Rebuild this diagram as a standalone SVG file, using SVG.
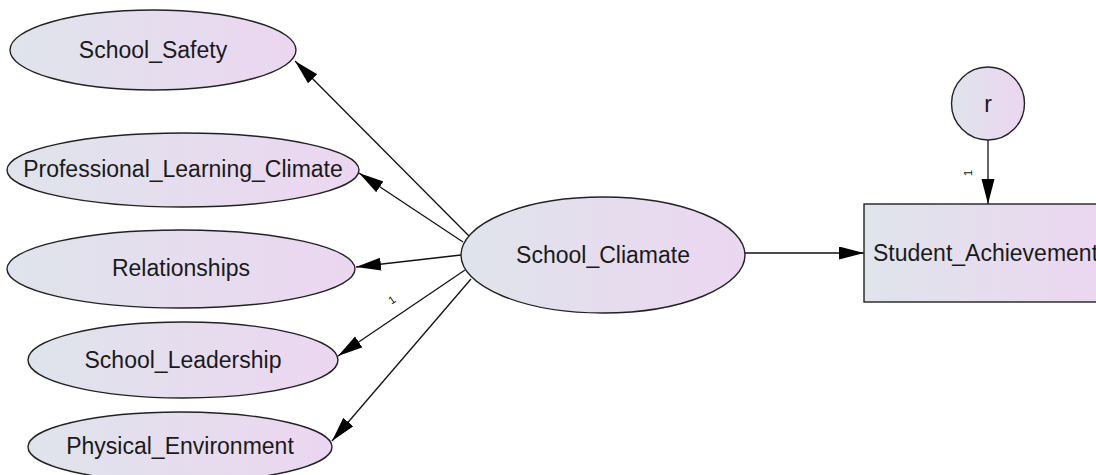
<svg xmlns="http://www.w3.org/2000/svg" width="1096" height="475" viewBox="0 0 1096 475">
<defs>
<linearGradient id="fill" x1="0" y1="0" x2="1" y2="0">
<stop offset="0" stop-color="#dfe4eb"/>
<stop offset="1" stop-color="#ecd6f1"/>
</linearGradient>
<marker id="arr" markerUnits="userSpaceOnUse" markerWidth="26" markerHeight="14" refX="25" refY="6.5" orient="auto">
<path d="M0,0 L25,6.5 L0,13 z" fill="#000"/>
</marker>
</defs>
<style>
.shape{fill:url(#fill);stroke:#222;stroke-width:1.4}
.lbl{font-family:"Liberation Sans",Arial,sans-serif;font-size:23px;fill:#1a1a1a;text-anchor:middle}
.edge{stroke:#111;stroke-width:1.3;fill:none;marker-end:url(#arr)}
.one{font-family:"Liberation Sans",Arial,sans-serif;font-size:11px;fill:#111;text-anchor:middle}
</style>
<rect width="1096" height="475" fill="#fff"/>
<g id="connectors">
<line class="edge" x1="470" y1="237" x2="295" y2="61"/>
<line class="edge" x1="463" y1="242" x2="359" y2="173"/>
<line class="edge" x1="461" y1="255" x2="356" y2="267"/>
<line class="edge" x1="465" y1="270" x2="338" y2="356"/>
<line class="edge" x1="471" y1="279" x2="332" y2="441"/>
<line class="edge" x1="745" y1="253" x2="864" y2="253"/>
<line class="edge" x1="988" y1="140" x2="988" y2="204"/>
<text class="one" transform="translate(394,303) rotate(-34)">1</text>
<text class="one" transform="translate(972,173) rotate(-90)">1</text>
</g>
<g id="School_Safety">
<ellipse class="shape" cx="153" cy="50" rx="143" ry="40"/>
<text class="lbl" x="153" y="58">School_Safety</text>
</g>
<g id="Professional_Learning_Climate">
<ellipse class="shape" cx="183" cy="170" rx="176" ry="37"/>
<text class="lbl" x="183" y="177">Professional_Learning_Climate</text>
</g>
<g id="Relationships">
<ellipse class="shape" cx="181" cy="269" rx="174" ry="39"/>
<text class="lbl" x="181" y="276">Relationships</text>
</g>
<g id="School_Leadership">
<ellipse class="shape" cx="183" cy="360" rx="155" ry="38"/>
<text class="lbl" x="183" y="368">School_Leadership</text>
</g>
<g id="Physical_Environment">
<ellipse class="shape" cx="180" cy="447" rx="152" ry="35"/>
<text class="lbl" x="180" y="454">Physical_Environment</text>
</g>
<g id="School_Cliamate">
<ellipse class="shape" cx="603" cy="255" rx="142" ry="58"/>
<text class="lbl" x="603" y="263">School_Cliamate</text>
</g>
<g id="Student_Achievement">
<rect class="shape" x="864" y="204" width="250" height="98"/>
<text class="lbl" x="873" y="261" style="text-anchor:start">Student_Achievement</text>
</g>
<g id="r">
<circle class="shape" cx="988" cy="103.5" r="36.5"/>
<text class="lbl" x="988" y="112">r</text>
</g>
</svg>
